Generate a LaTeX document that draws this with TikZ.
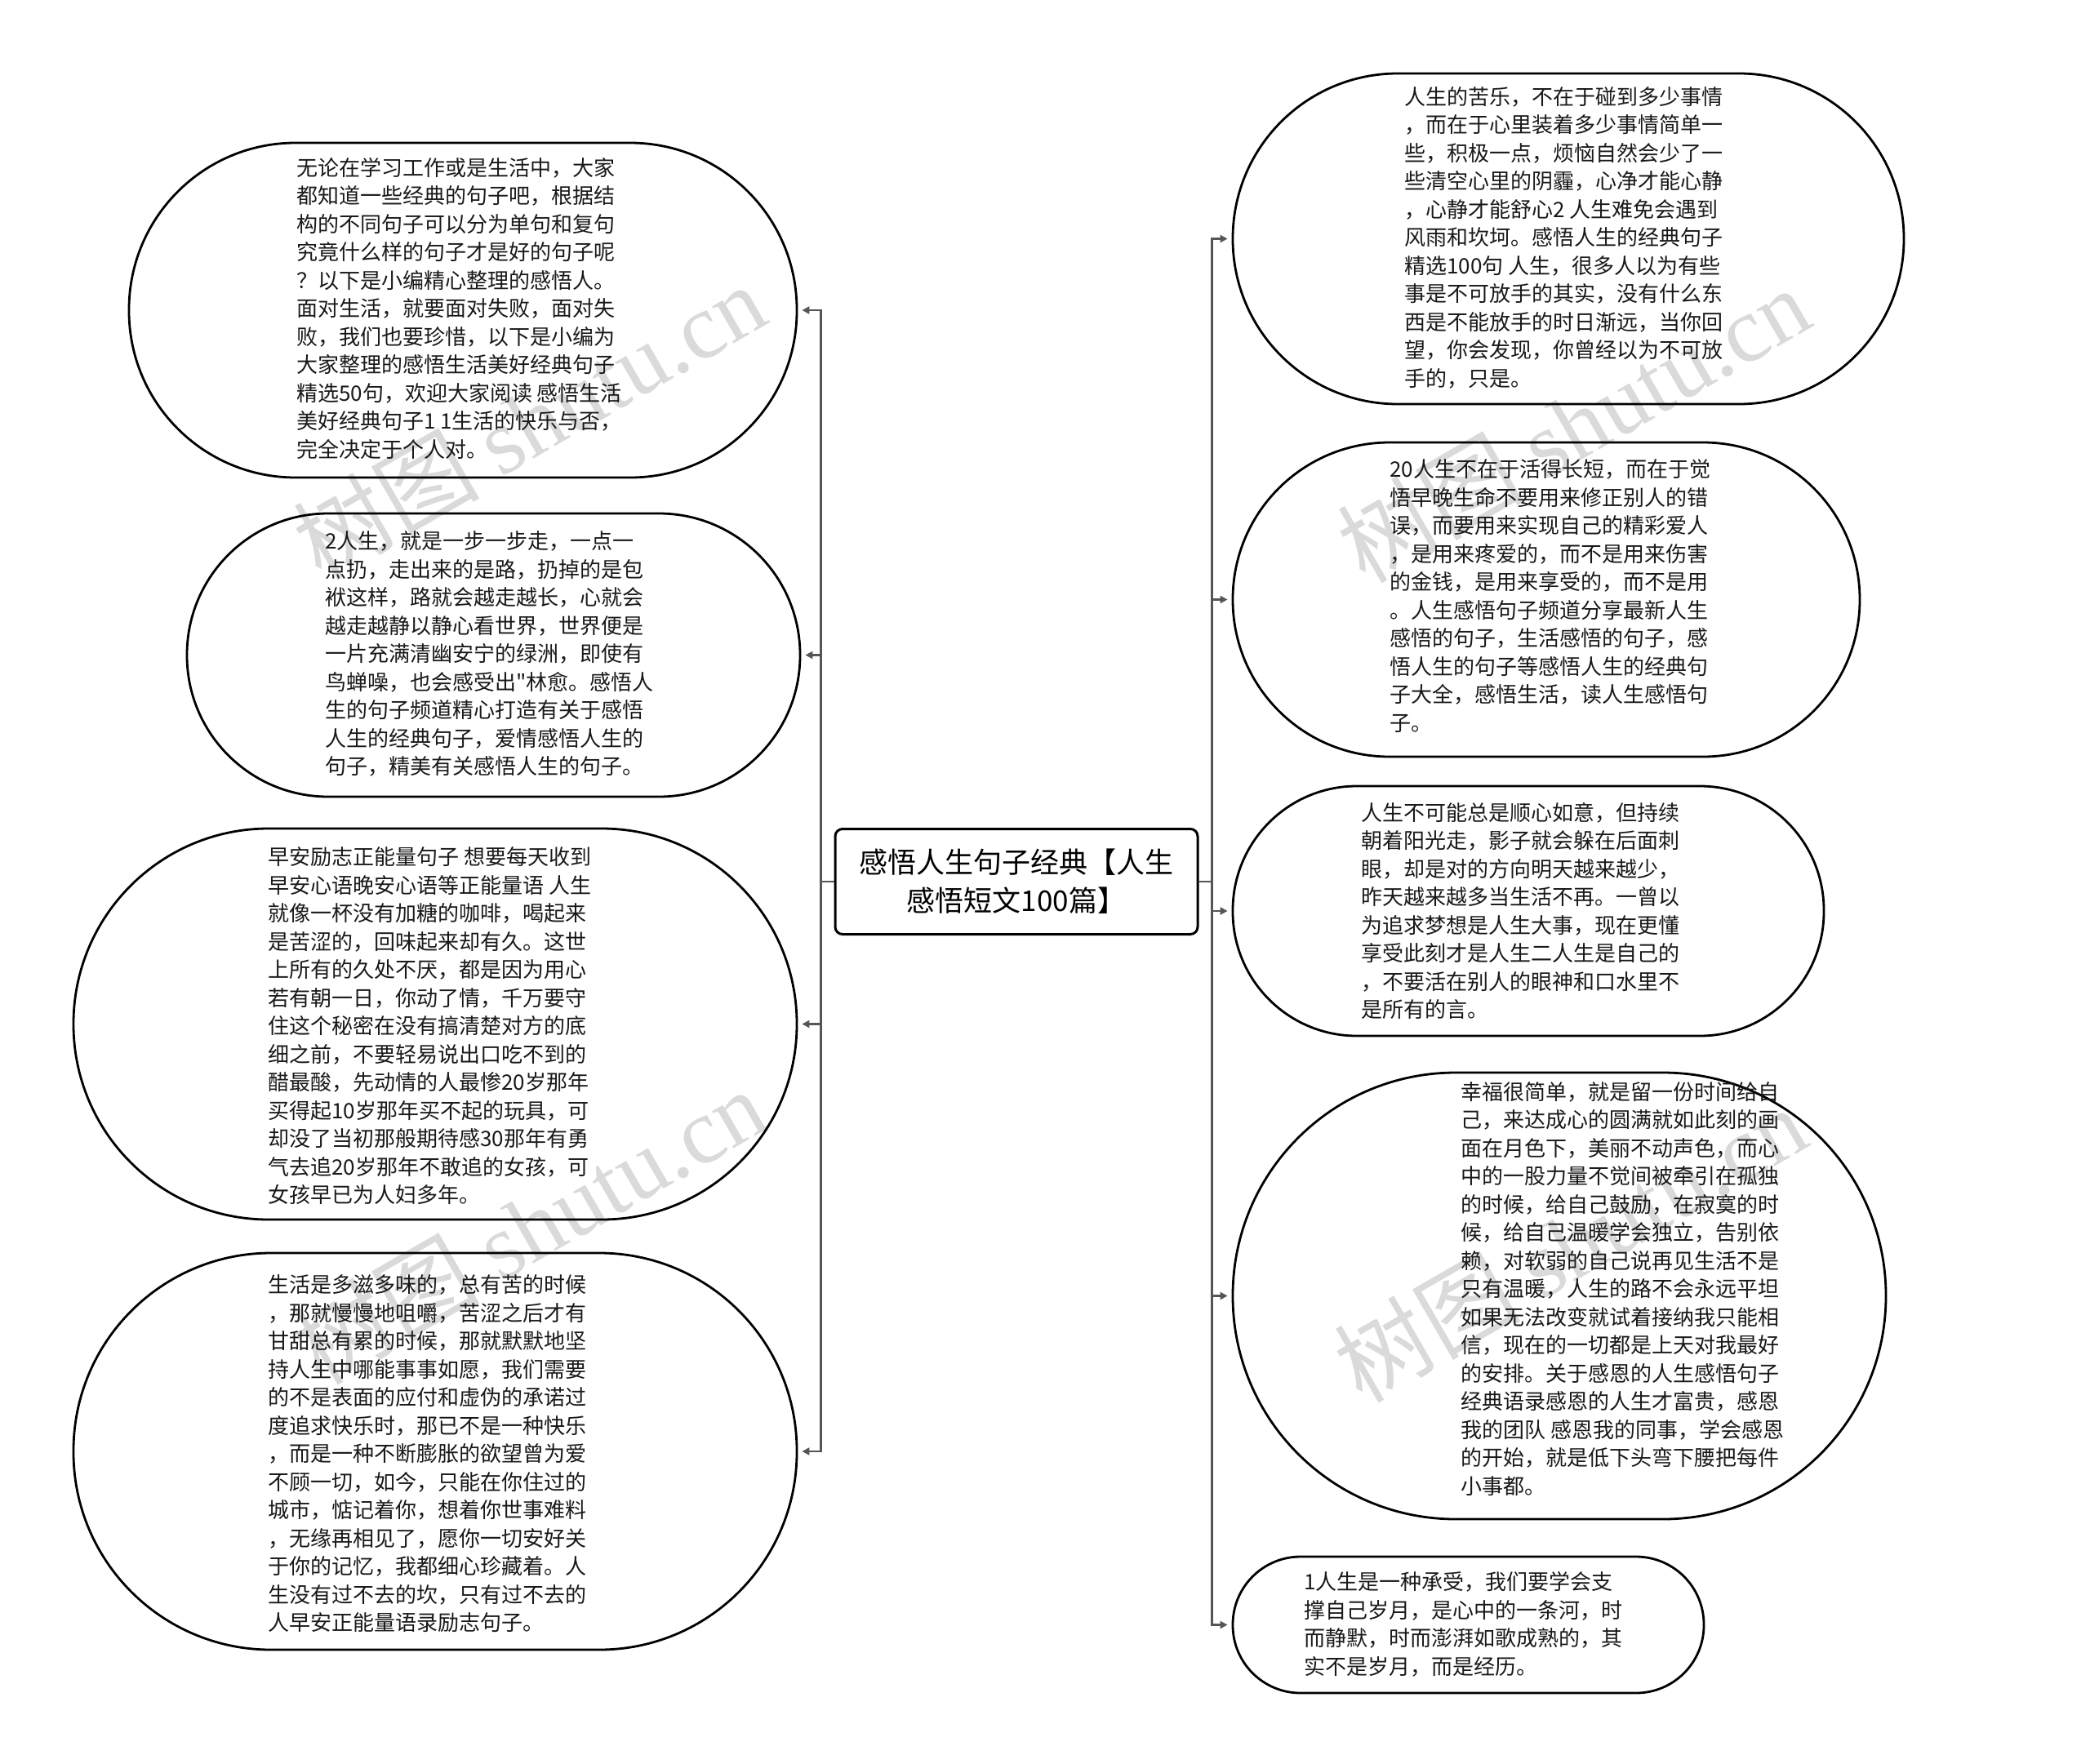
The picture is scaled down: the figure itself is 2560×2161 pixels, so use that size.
\documentclass[tikz,border=0pt]{standalone}
\usepackage{fontspec}
\setmainfont{Noto Sans CJK SC}[Ligatures=TeXOff]
\newfontfamily\cjk{Noto Sans CJK SC}
\newfontfamily\wmserif{Liberation Serif}
\usetikzlibrary{arrows.meta}
\definecolor{conncol}{HTML}{555555}
\definecolor{wmcol}{HTML}{DADADA}
\tikzset{
  bubble/.style={draw=black, line width=2.8pt, inner sep=0pt},
  txt/.style={font=\cjk\fontsize{26}{34.5}\selectfont, align=left, inner sep=0pt, anchor=west, text=black!90},
  topic/.style={draw=black, line width=3pt, rounded corners=9pt, minimum width=444, minimum height=129,
    align=center, font=\cjk\fontsize{35}{47}\selectfont, inner sep=0pt},
  conn/.style={draw=conncol, line width=2.6pt, -{Triangle[length=9pt,width=9pt]}, shorten >=5pt},
  wm/.style={text=wmcol, rotate=30, inner sep=0pt, font=\fontsize{114}{114}\selectfont}
}
\begin{document}
\begin{tikzpicture}[x=1pt,y=-1pt]
\useasboundingbox[fill=white] (0,0) rectangle (2560,2161);

% watermarks
\node[wm] (w1) at (648,516) {\cjk 树图 \wmserif shutu.cn};
\node[wm] (w2) at (1927,520) {\cjk 树图 \wmserif shutu.cn};
\node[wm] (w3) at (648,1502) {\cjk 树图 \wmserif shutu.cn};
\node[wm] (w4) at (1923,1524) {\cjk 树图 \wmserif shutu.cn};

% central topic
\node[topic] (c) at (1245,1080) {感悟人生句子经典【人生\\感悟短文100篇】};

% left bubbles
\node[bubble, minimum width=818, minimum height=410, rounded corners=204] (l1) at (567,380) {};
\node[bubble, minimum width=751, minimum height=347, rounded corners=173] (l2) at (604.5,802.5) {};
\node[bubble, minimum width=886, minimum height=479, rounded corners=239] (l3) at (533,1254.5) {};
\node[bubble, minimum width=886, minimum height=486, rounded corners=242] (l4) at (533,1778) {};

% right bubbles
\node[bubble, minimum width=822, minimum height=405, rounded corners=202] (r1) at (1921,292.5) {};
\node[bubble, minimum width=768, minimum height=385, rounded corners=192] (r2) at (1894,734.5) {};
\node[bubble, minimum width=724, minimum height=306, rounded corners=152] (r3) at (1872,1116) {};
\node[bubble, minimum width=800, minimum height=547, rounded corners=273] (r4) at (1910,1587.5) {};
\node[bubble, minimum width=577, minimum height=167, rounded corners=83] (r5) at (1798.5,1990.5) {};

% texts
\node[txt] (l1t) at (363,378) {无论在学习工作或是生活中，大家\\都知道一些经典的句子吧，根据结\\构的不同句子可以分为单句和复句\\究竟什么样的句子才是好的句子呢\\？以下是小编精心整理的感悟人。\\面对生活，就要面对失败，面对失\\败，我们也要珍惜，以下是小编为\\大家整理的感悟生活美好经典句子\\精选50句，欢迎大家阅读 感悟生活\\美好经典句子1 1生活的快乐与否，\\完全决定于个人对。};
\node[txt] (l2t) at (398,801) {2人生，就是一步一步走，一点一\\点扔，走出来的是路，扔掉的是包\\袱这样，路就会越走越长，心就会\\越走越静以静心看世界，世界便是\\一片充满清幽安宁的绿洲，即使有\\鸟蝉噪，也会感受出"林愈。感悟人\\生的句子频道精心打造有关于感悟\\人生的经典句子，爱情感悟人生的\\句子，精美有关感悟人生的句子。};
\node[txt] (l3t) at (328,1257) {早安励志正能量句子 想要每天收到\\早安心语晚安心语等正能量语 人生\\就像一杯没有加糖的咖啡，喝起来\\是苦涩的，回味起来却有久。这世\\上所有的久处不厌，都是因为用心\\若有朝一日，你动了情，千万要守\\住这个秘密在没有搞清楚对方的底\\细之前，不要轻易说出口吃不到的\\醋最酸，先动情的人最惨20岁那年\\买得起10岁那年买不起的玩具，可\\却没了当初那般期待感30那年有勇\\气去追20岁那年不敢追的女孩，可\\女孩早已为人妇多年。};
\node[txt] (l4t) at (328,1781) {生活是多滋多味的，总有苦的时候\\，那就慢慢地咀嚼，苦涩之后才有\\甘甜总有累的时候，那就默默地坚\\持人生中哪能事事如愿，我们需要\\的不是表面的应付和虚伪的承诺过\\度追求快乐时，那已不是一种快乐\\，而是一种不断膨胀的欲望曾为爱\\不顾一切，如今，只能在你住过的\\城市，惦记着你，想着你世事难料\\，无缘再相见了，愿你一切安好关\\于你的记忆，我都细心珍藏着。人\\生没有过不去的坎，只有过不去的\\人早安正能量语录励志句子。};
\node[txt] (r1t) at (1720,291) {人生的苦乐，不在于碰到多少事情\\，而在于心里装着多少事情简单一\\些，积极一点，烦恼自然会少了一\\些清空心里的阴霾，心净才能心静\\，心静才能舒心2 人生难免会遇到\\风雨和坎坷。感悟人生的经典句子\\精选100句 人生，很多人以为有些\\事是不可放手的其实，没有什么东\\西是不能放手的时日渐远，当你回\\望，你会发现，你曾经以为不可放\\手的，只是。};
\node[txt] (r2t) at (1702,730) {20人生不在于活得长短，而在于觉\\悟早晚生命不要用来修正别人的错\\误，而要用来实现自己的精彩爱人\\，是用来疼爱的，而不是用来伤害\\的金钱，是用来享受的，而不是用\\。人生感悟句子频道分享最新人生\\感悟的句子，生活感悟的句子，感\\悟人生的句子等感悟人生的经典句\\子大全，感悟生活，读人生感悟句\\子。};
\node[txt] (r3t) at (1667,1116) {人生不可能总是顺心如意，但持续\\朝着阳光走，影子就会躲在后面刺\\眼，却是对的方向明天越来越少，\\昨天越来越多当生活不再。一曾以\\为追求梦想是人生大事，现在更懂\\享受此刻才是人生二人生是自己的\\，不要活在别人的眼神和口水里不\\是所有的言。};
\node[txt] (r4t) at (1789,1579) {幸福很简单，就是留一份时间给自\\己，来达成心的圆满就如此刻的画\\面在月色下，美丽不动声色，而心\\中的一股力量不觉间被牵引在孤独\\的时候，给自己鼓励，在寂寞的时\\候，给自己温暖学会独立，告别依\\赖，对软弱的自己说再见生活不是\\只有温暖，人生的路不会永远平坦\\如果无法改变就试着接纳我只能相\\信，现在的一切都是上天对我最好\\的安排。关于感恩的人生感悟句子\\经典语录感恩的人生才富贵，感恩\\我的团队 感恩我的同事，学会感恩\\的开始，就是低下头弯下腰把每件\\小事都。};
\node[txt] (r5t) at (1597,1990) {1人生是一种承受，我们要学会支\\撑自己岁月，是心中的一条河，时\\而静默，时而澎湃如歌成熟的，其\\实不是岁月，而是经历。};

% connectors
\foreach \n in {l1,l2,l3,l4}{
  \draw[conn] (c.west) -- ++(-16,0) |- (\n.east);
}
\foreach \n in {r1,r2,r3,r4,r5}{
  \draw[conn] (c.east) -- ++(16,0) |- (\n.west);
}
\end{tikzpicture}
\end{document}
